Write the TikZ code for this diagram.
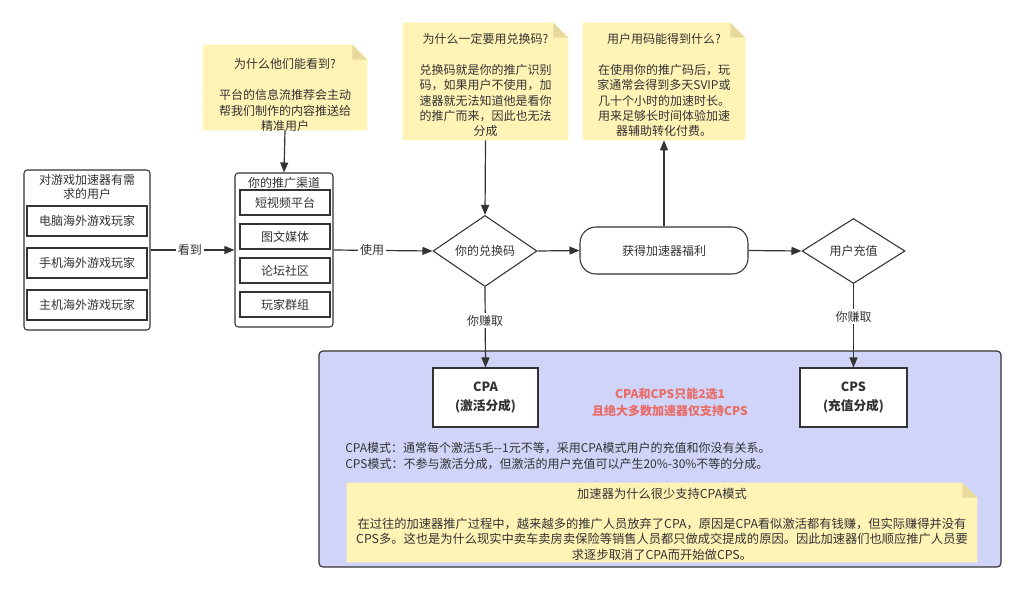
\documentclass[tikz,border=0pt]{standalone}
\usepackage{fontspec}
\setmainfont{Noto Sans CJK SC}
\usetikzlibrary{arrows.meta,shapes.geometric,calc}
\definecolor{ln}{RGB}{51,51,51}
\definecolor{txt}{RGB}{51,51,51}
\definecolor{notey}{RGB}{255,243,181}
\definecolor{notef}{RGB}{230,217,155}
\definecolor{lav}{RGB}{208,212,248}
\definecolor{redt}{RGB}{234,107,102}
\newcommand\stickynote[1]{%
  \fill[notey] (#1.north west) -- ($(#1.north east)+(-15,0)$) -- ($(#1.north east)+(0,15)$) -- (#1.south east) -- (#1.south west) -- cycle;
  \fill[notef] ($(#1.north east)+(-15,0)$) -- ($(#1.north east)+(-15,15)$) -- ($(#1.north east)+(0,15)$) -- cycle;}
\begin{document}
\begin{tikzpicture}[x=0.75pt,y=-0.75pt,
  every node/.style={text=txt},
  fnt/.style={font=\fontsize{9}{11.6}\selectfont},
  conn/.style={draw=ln, line width=0.9pt, -{Triangle[length=7.5pt,width=6pt]}},
  item/.style={draw=ln, line width=0.8pt, fill=white, inner sep=0pt, fnt},
  group/.style={draw=ln, line width=0.8pt, rounded corners=2.5pt, fill=white, inner sep=0pt},
  decision/.style={diamond, draw=ln, line width=0.8pt, fill=white, inner sep=0pt, minimum height=48.75pt, fnt},
  lbl/.style={fill=white, inner sep=1.5pt, fnt},
  notebg/.style={inner sep=0pt},
  notetext/.style={fnt, align=center, inner sep=0pt},
  result/.style={draw=ln, line width=0.8pt, fill=white, inner sep=0pt, minimum height=44.25pt, align=center, font=\fontsize{9.5}{14}\selectfont\bfseries}
]
\useasboundingbox (0,0) rectangle (1024,590);

% container
\node[draw=ln, line width=0.9pt, fill=lav, rounded corners=3pt, inner sep=0pt,
      minimum width=511.5pt, minimum height=162pt] (cont) at (660,459) {};

% left group
\node[group, minimum width=94.5pt, minimum height=120pt] (users) at (87,250) {};
\node[align=center, font=\fontsize{9}{10.5}\selectfont, inner sep=0pt] (userst) at (87,187) {对游戏加速器有需\\求的用户};
\node[item, minimum width=90pt, minimum height=22.5pt] (u1) at (87,221) {电脑海外游戏玩家};
\node[item, minimum width=90pt, minimum height=22.5pt] (u2) at (87,263) {手机海外游戏玩家};
\node[item, minimum width=90pt, minimum height=22.5pt] (u3) at (87,305) {主机海外游戏玩家};

% channel group
\node[group, minimum width=73.5pt, minimum height=115.5pt] (chan) at (284,250) {};
\node[fnt, inner sep=0pt] (chant) at (284,182.5) {你的推广渠道};
\node[item, minimum width=67.5pt, minimum height=18.75pt] (c1) at (285,202.5) {短视频平台};
\node[item, minimum width=67.5pt, minimum height=18.75pt] (c2) at (285,236.5) {图文媒体};
\node[item, minimum width=67.5pt, minimum height=18.75pt] (c3) at (285,270.5) {论坛社区};
\node[item, minimum width=67.5pt, minimum height=18.75pt] (c4) at (285,304.5) {玩家群组};

% main flow
\node[decision, minimum width=78pt] (code) at (485,251) {你的兑换码};
\node[draw=ln, line width=0.8pt, fill=white, rounded corners=12pt, inner sep=0pt,
      minimum width=126pt, minimum height=35.25pt, fnt] (gain) at (664,250.5) {获得加速器福利};
\node[decision, minimum width=77.25pt] (pay) at (853.5,251) {用户充值};

% notes
\node[notebg, minimum width=123pt, minimum height=63.75pt] (n1) at (285,87.5) {};
\stickynote{n1}
\node[notetext] (n1t) at (285,95) {为什么他们能看到?\\[11.6pt]平台的信息流推荐会主动\\帮我们制作的内容推送给\\精准用户};

\node[notebg, minimum width=123.75pt, minimum height=87.75pt] (n2) at (485.5,81.5) {};
\stickynote{n2}
\node[notetext] (n2t) at (485.5,85) {为什么一定要用兑换码?\\[11.6pt]兑换码就是你的推广识别\\码，如果用户不使用，加\\速器就无法知道他是看你\\的推广而来，因此也无法\\分成};

\node[notebg, minimum width=121.5pt, minimum height=87.75pt] (n3) at (664,81.5) {};
\stickynote{n3}
\node[notetext] (n3t) at (664,85) {用户用码能得到什么?\\[11.6pt]在使用你的推广码后，玩\\家通常会得到多天SVIP或\\几十个小时的加速时长。\\用来足够长时间体验加速\\器辅助转化付费。};

% results
\node[result, minimum width=78.75pt] (cpa) at (485.5,397.5) {CPA\\(激活分成)};
\node[result, minimum width=80.25pt] (cps) at (853.5,397.5) {CPS\\(充值分成)};
\node[align=center, text=redt, inner sep=0pt, font=\fontsize{9}{12.5}\selectfont\bfseries] (only) at (670,402.5) {CPA和CPS只能2选1\\且绝大多数加速器仅支持CPS};

\node[fnt, anchor=west, inner sep=0pt] (m1) at (345,448) {CPA模式：通常每个激活5毛-{}-1元不等，采用CPA模式用户的充值和你没有关系。};
\node[fnt, anchor=west, inner sep=0pt] (m2) at (345,464.5) {CPS模式：不参与激活分成，但激活的用户充值可以产生20\%-30\%不等的分成。};

\node[notebg, minimum width=472.5pt, minimum height=59.25pt] (n4) at (662,522.5) {};
\stickynote{n4}
\node[notetext, font=\fontsize{9.2}{11.4}\selectfont] (n4t) at (662,524) {加速器为什么很少支持CPA模式\\[11.4pt]在过往的加速器推广过程中，越来越多的推广人员放弃了CPA，原因是CPA看似激活都有钱赚，但实际赚得并没有\\CPS多。这也是为什么现实中卖车卖房卖保险等销售人员都只做成交提成的原因。因此加速器们也顺应推广人员要\\求逐步取消了CPA而开始做CPS。};

% connectors
\draw[conn] (users.east) -- node[lbl, pos=0.47] {看到} (chan.west);
\draw[conn] (chan.east) -- node[lbl, pos=0.39] {使用} (code.west);
\draw[conn] (code.east) -- (gain.west);
\draw[conn] (gain.east) -- (pay.west);
\draw[conn] (n1.south) -- (chan.north);
\draw[conn] (n2.south) -- (code.north);
\draw[conn] (gain.north) -- (n3.south);
\draw[conn] (code.south) -- node[lbl, pos=0.42] {你赚取} (cpa.north);
\draw[conn] (pay.south) -- node[lbl, pos=0.39] {你赚取} (cps.north);
\end{tikzpicture}
\end{document}
